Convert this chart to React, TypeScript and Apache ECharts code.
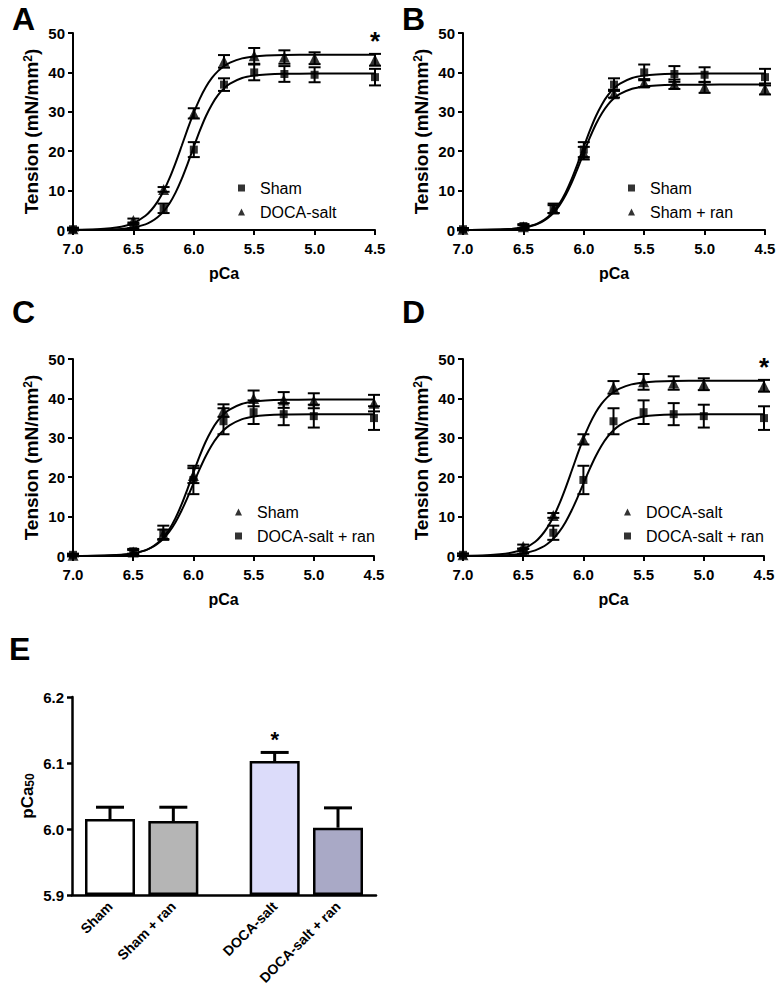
import React, { useEffect, useRef } from 'react';
import * as echarts from 'echarts';

const FONT = '"Liberation Sans", Arial, Helvetica, sans-serif';

// pCa levels of the measured points
const pCaLevels = [7.0, 6.5, 6.25, 6.0, 5.75, 5.5, 5.25, 5.0, 4.5];
// Tension means and SEM (mN/mm2)
const shamMean = [0.2, 1.0, 5.5, 20.4, 36.9, 40.0, 39.6, 39.4, 38.8];
const shamSem = [0.3, 0.5, 1.2, 1.9, 1.6, 2.0, 2.0, 1.9, 2.1];
const docaMean = [0.3, 2.4, 10.3, 29.6, 42.8, 44.2, 43.9, 43.6, 43.2];
const docaSem = [0.3, 0.5, 0.6, 1.3, 1.6, 2.0, 1.7, 1.5, 1.5];
const shamRanMean = [0.2, 0.8, 5.3, 19.5, 34.6, 37.3, 37.0, 36.2, 35.8];
const shamRanSem = [0.2, 0.4, 1.0, 1.6, 1.0, 1.0, 1.2, 1.4, 1.4];
const docaRanMean = [0.3, 1.2, 5.9, 19.3, 34.2, 36.5, 36.0, 35.5, 35.0];
const docaRanSem = [0.3, 0.6, 1.8, 3.6, 3.3, 3.0, 2.8, 2.9, 3.0];

// fitted curves, read at these pCa values
const fitPCa = [7.0, 6.8, 6.6, 6.5, 6.4, 6.35, 6.3, 6.25, 6.2, 6.15, 6.1, 6.05, 6.0, 5.95, 5.9, 5.85, 5.8, 5.75, 5.7, 5.6, 5.5, 5.4, 5.25, 5.0, 4.75, 4.5];
const shamFit = [0.01, 0.05, 0.27, 0.63, 1.44, 2.16, 3.22, 4.72, 6.8, 9.55, 12.96, 16.91, 21.12, 25.21, 28.87, 31.88, 34.22, 35.94, 37.16, 38.58, 39.21, 39.49, 39.64, 39.69, 39.7, 39.7];
const docaFit = [0.04, 0.17, 0.81, 1.73, 3.61, 5.14, 7.21, 9.89, 13.22, 17.12, 21.38, 25.71, 29.78, 33.35, 36.3, 38.6, 40.33, 41.59, 42.49, 43.56, 44.06, 44.3, 44.44, 44.49, 44.5, 44.5];
const shamRanFit = [0.01, 0.05, 0.25, 0.59, 1.34, 2.01, 2.99, 4.39, 6.32, 8.88, 12.05, 15.72, 19.63, 23.43, 26.83, 29.63, 31.81, 33.41, 34.54, 35.86, 36.45, 36.7, 36.84, 36.89, 36.9, 36.9];
const docaRanFit = [0.01, 0.06, 0.3, 0.65, 1.43, 2.1, 3.06, 4.39, 6.19, 8.53, 11.43, 14.77, 18.36, 21.92, 25.19, 27.98, 30.21, 31.91, 33.16, 34.67, 35.4, 35.73, 35.92, 35.99, 36.0, 36.0];

const xTicks = { min: 4.5, max: 7.0, interval: 0.5 };
const yTicks = { min: 0, max: 50, interval: 10 };

// panel E
const groups = ['Sham', 'Sham + ran', 'DOCA-salt', 'DOCA-salt + ran'];
const groupPos = [1, 2, 3.6, 4.6];
const pCa50Mean = [6.015, 6.012, 6.103, 6.002];
const pCa50Sem = [0.018, 0.021, 0.013, 0.03];
const barColors = ['#ffffff', '#b5b5b5', '#dcdcfa', '#a9a9c6'];
const eTicks = { min: 5.9, max: 6.2, interval: 0.1 };

const groupData = {
  Sham: { mean: shamMean, sem: shamSem, fit: shamFit },
  'DOCA-salt': { mean: docaMean, sem: docaSem, fit: docaFit },
  'Sham + ran': { mean: shamRanMean, sem: shamRanSem, fit: shamRanFit },
  'DOCA-salt + ran': { mean: docaRanMean, sem: docaRanSem, fit: docaRanFit },
};

const panels = [
  { letter: 'A', grid: { left: 73, top: 33, width: 302, height: 197 }, legend: { left: 233, top: 175 }, items: [['Sham', 'rect'], ['DOCA-salt', 'triangle']], star: true, title: { left: 7, top: -2 } },
  { letter: 'B', grid: { left: 463, top: 33, width: 302, height: 197 }, legend: { left: 623, top: 175 }, items: [['Sham', 'rect'], ['Sham + ran', 'triangle']], star: false, title: { left: 397, top: -2 } },
  { letter: 'C', grid: { left: 73, top: 359, width: 301, height: 197 }, legend: { left: 230, top: 499 }, items: [['Sham', 'triangle'], ['DOCA-salt + ran', 'rect']], star: false, title: { left: 7, top: 291 } },
  { letter: 'D', grid: { left: 463, top: 359, width: 301, height: 197 }, legend: { left: 619, top: 499 }, items: [['DOCA-salt', 'triangle'], ['DOCA-salt + ran', 'rect']], star: true, title: { left: 397, top: 291 } },
];

const axisLineStyle = { color: '#000', width: 2 };
const tickLabel = { color: '#000', fontWeight: 'bold', fontSize: 15, fontFamily: FONT };

function errorBarSeries(name, data, xi, capHalf, width, upperOnly) {
  return {
    type: 'custom',
    name,
    xAxisIndex: xi,
    yAxisIndex: xi,
    silent: true,
    z: 3,
    data,
    renderItem: (params, api) => {
      const x = api.value(0);
      const y = api.value(1);
      const e = api.value(2);
      const top = api.coord([x, y + e]);
      const bot = upperOnly ? api.coord([x, y]) : api.coord([x, y - e]);
      const style = { stroke: '#000', lineWidth: width };
      const children = [
        { type: 'line', shape: { x1: top[0], y1: top[1], x2: bot[0], y2: bot[1] }, style },
        { type: 'line', shape: { x1: top[0] - capHalf, y1: top[1], x2: top[0] + capHalf, y2: top[1] }, style },
      ];
      if (!upperOnly) {
        children.push({ type: 'line', shape: { x1: bot[0] - capHalf, y1: bot[1], x2: bot[0] + capHalf, y2: bot[1] }, style });
      }
      return { type: 'group', children };
    },
  };
}

function buildOption() {
  const grids = [];
  const xAxes = [];
  const yAxes = [];
  const series = [];
  const legends = [];
  const titles = [];

  panels.forEach((p, i) => {
    grids.push({ ...p.grid, containLabel: false });
    xAxes.push({
      type: 'value', gridIndex: i, inverse: true, ...xTicks,
      name: 'pCa', nameLocation: 'middle', nameGap: 35,
      nameTextStyle: { color: '#000', fontWeight: 'bold', fontSize: 16, fontFamily: FONT },
      axisLine: { show: true, lineStyle: axisLineStyle },
      axisTick: { show: true, length: 5, lineStyle: axisLineStyle },
      axisLabel: { ...tickLabel, margin: 11, formatter: (v) => Number(v).toFixed(1) },
      splitLine: { show: false },
    });
    yAxes.push({
      type: 'value', gridIndex: i, ...yTicks,
      name: 'Tension (mN/mm{sup|2})', nameLocation: 'middle', nameGap: 32, nameRotate: 90,
      nameTextStyle: {
        color: '#000', fontWeight: 'bold', fontSize: 19, fontFamily: FONT,
        rich: { sup: { fontSize: 12, fontWeight: 'bold', fontFamily: FONT, color: '#000', verticalAlign: 'top', padding: [0, 0, 7, 0] } },
      },
      axisLine: { show: true, lineStyle: axisLineStyle },
      axisTick: { show: true, length: 5, lineStyle: axisLineStyle },
      axisLabel: { ...tickLabel, margin: 8 },
      splitLine: { show: false },
    });
    titles.push({ text: p.letter, left: p.title.left, top: p.title.top, textStyle: { fontSize: 32, fontWeight: 'bold', color: '#000', fontFamily: FONT } });

    p.items.forEach(([name, symbol], k) => {
      const g = groupData[name];
      series.push({
        type: 'line', name: name + ' fit', xAxisIndex: i, yAxisIndex: i, smooth: 0.3,
        showSymbol: false, silent: true, z: 2,
        lineStyle: { color: '#000', width: 2 },
        data: fitPCa.map((x, j) => [x, g.fit[j]]),
      });
      series.push(errorBarSeries(name + ' SEM', pCaLevels.map((x, j) => [x, g.mean[j], g.sem[j]]), i, 6, 2, false));
      const sc: any = {
        type: 'scatter', name, xAxisIndex: i, yAxisIndex: i, symbol, symbolSize: symbol === 'rect' ? 8 : 11,
        itemStyle: { color: '#000' }, z: 4,
        data: pCaLevels.map((x, j) => [x, g.mean[j]]),
      };
      if (p.star && k === 0) {
        sc.markPoint = {
          symbol: 'circle', symbolSize: 0, silent: true,
          label: { show: true, position: 'inside', formatter: '*', fontSize: 26, fontWeight: 'bold', color: '#000', fontFamily: FONT },
          data: [{ coord: [4.5, 48] }],
        };
      }
      series.push(sc);
    });

    legends.push({
      orient: 'vertical', left: p.legend.left, top: p.legend.top, itemWidth: 7, itemHeight: 7, itemGap: 8,
      selectedMode: false,
      data: p.items.map(([name, icon]) => ({ name, icon })),
      textStyle: { fontSize: 16, color: '#000', fontFamily: FONT, padding: [0, 0, 0, 10] },
    });
  });

  // panel E
  const ei = 4;
  grids.push({ left: 72, top: 697, width: 304, height: 198, containLabel: false });
  xAxes.push({
    type: 'value', gridIndex: ei, min: 0.4, max: 5.2,
    axisLine: { show: true, lineStyle: { color: '#000', width: 2.5 } },
    axisTick: { show: false },
    axisLabel: {
      ...tickLabel, fontSize: 14, customValues: groupPos, rotate: 45, margin: 9,
      formatter: (v) => { const k = groupPos.findIndex((g) => Math.abs(g - v) < 1e-6); return k >= 0 ? groups[k] : ''; },
    },
    splitLine: { show: false },
  });
  yAxes.push({
    type: 'value', gridIndex: ei, ...eTicks, startValue: 5.9,
    name: 'pCa{sub|50}', nameLocation: 'middle', nameGap: 36, nameRotate: 90,
    nameTextStyle: {
      color: '#000', fontWeight: 'bold', fontSize: 17, fontFamily: FONT,
      rich: { sub: { fontSize: 12, fontWeight: 'bold', fontFamily: FONT, color: '#000', verticalAlign: 'bottom', padding: [6, 0, 0, 0] } },
    },
    axisLine: { show: true, lineStyle: { color: '#000', width: 2.5 } },
    axisTick: { show: true, length: 5, lineStyle: { color: '#000', width: 2.5 } },
    axisLabel: { ...tickLabel, margin: 8, formatter: (v) => Number(v).toFixed(1) },
    splitLine: { show: false },
  });
  titles.push({ text: 'E', left: 4, top: 628, textStyle: { fontSize: 32, fontWeight: 'bold', color: '#000', fontFamily: FONT } });
  series.push({
    type: 'bar', name: 'pCa50', xAxisIndex: ei, yAxisIndex: ei, barWidth: 50, z: 2,
    itemStyle: { borderColor: '#000', borderWidth: 2.5 },
    data: groupPos.map((x, k) => ({ value: [x, pCa50Mean[k]], itemStyle: { color: barColors[k] } })),
    markPoint: {
      symbol: 'circle', symbolSize: 0, silent: true,
      label: { show: true, position: 'inside', formatter: '*', fontSize: 22, fontWeight: 'bold', color: '#000', fontFamily: FONT },
      data: [{ coord: [groupPos[2], 6.136] }],
    },
  });
  series.push(errorBarSeries('pCa50 SEM', groupPos.map((x, k) => [x, pCa50Mean[k], pCa50Sem[k]]), ei, 14, 3, true));

  return {
    animation: false,
    backgroundColor: '#fff',
    textStyle: { fontFamily: FONT },
    title: titles,
    legend: legends,
    grid: grids,
    xAxis: xAxes,
    yAxis: yAxes,
    series,
  };
}

export default function App() {
  const ref = useRef<HTMLDivElement>(null);
  useEffect(() => {
    if (!ref.current) return;
    const chart = echarts.init(ref.current, null, { renderer: 'svg' });
    chart.setOption(buildOption() as any);
    return () => chart.dispose();
  }, []);
  return <div ref={ref} style={{ position: 'absolute', left: 0, top: 0, width: 781, height: 994 }} />;
}
